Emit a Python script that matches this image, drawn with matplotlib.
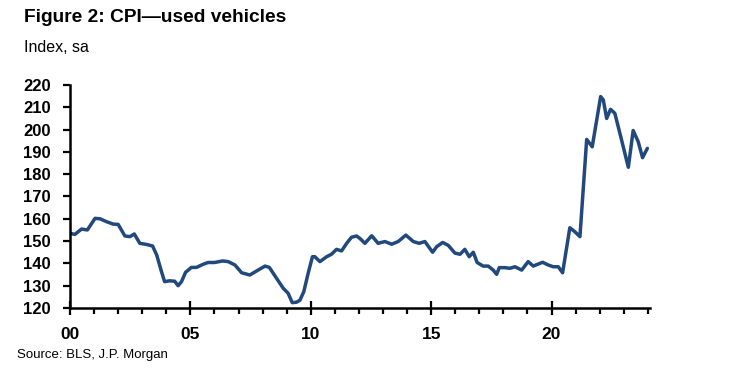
import matplotlib
matplotlib.use("Agg")
import matplotlib.pyplot as plt
from matplotlib.ticker import MultipleLocator, FixedLocator

plt.rcParams['font.family'] = ['Liberation Sans Narrow', 'Liberation Sans', 'DejaVu Sans']

# years since 2000 (decimal) and CPI used vehicles index, sa
years = [0.0, 0.2, 0.48, 0.72, 1.04, 1.25, 1.52, 1.8, 2.0, 2.28, 2.49, 2.67, 2.9, 3.18, 3.43,
         3.6, 3.8, 3.93, 4.14, 4.35, 4.49, 4.63, 4.8, 5.04, 5.25, 5.53, 5.73, 6.0, 6.34, 6.57,
         6.85, 7.13, 7.47, 7.75, 8.1, 8.28, 8.58, 8.86, 9.06, 9.23, 9.41, 9.55, 9.71, 9.89,
         10.07, 10.17, 10.38, 10.66, 10.86, 11.07, 11.28, 11.49, 11.69, 11.9, 12.04, 12.25,
         12.53, 12.8, 13.08, 13.36, 13.63, 13.95, 14.26, 14.5, 14.74, 15.06, 15.23, 15.48,
         15.71, 15.99, 16.2, 16.4, 16.58, 16.75, 16.91, 17.16, 17.37, 17.58, 17.72, 17.83,
         18.06, 18.27, 18.48, 18.76, 19.03, 19.24, 19.63, 19.86, 20.07, 20.28, 20.46, 20.76,
         20.97, 21.18, 21.46, 21.69, 22.04, 22.15, 22.29, 22.45, 22.63, 22.91, 23.19, 23.39,
         23.6, 23.78, 23.98]
values = [153.5, 153.0, 155.4, 155.0, 160.2, 160.0, 158.7, 157.6, 157.5, 152.3, 152.0, 153.2,
          149.0, 148.5, 147.8, 143.8, 136.3, 131.8, 132.2, 132.0, 130.0, 131.8, 136.0, 138.2,
          138.2, 139.6, 140.4, 140.4, 141.1, 140.8, 139.3, 135.8, 134.8, 136.6, 138.8, 138.2,
          133.3, 128.8, 126.6, 122.4, 122.6, 123.5, 127.3, 135.5, 143.0, 143.0, 140.8, 143.0,
          144.1, 146.3, 145.6, 149.0, 151.7, 152.3, 151.2, 149.0, 152.4, 149.0, 149.8, 148.6,
          149.8, 152.7, 149.8, 149.0, 149.8, 145.0, 147.5, 149.4, 148.1, 144.6, 144.1, 146.3,
          143.0, 145.0, 140.4, 138.8, 138.8, 137.0, 135.1, 138.1, 138.1, 137.8, 138.5, 137.0,
          140.8, 138.8, 140.5, 139.3, 138.5, 138.5, 135.8, 156.0, 154.2, 152.0, 195.6, 192.3,
          214.8, 213.3, 205.0, 209.1, 207.3, 195.3, 183.1, 199.6, 194.6, 187.4, 191.6]

x_major = [0, 5, 10, 15, 20]
x_labels = ['00', '05', '10', '15', '20']
y_ticks = [120, 130, 140, 150, 160, 170, 180, 190, 200, 210, 220]

fig = plt.figure(figsize=(7.4, 3.85), dpi=100)
ax = fig.add_axes([70/740, 1-308/385, 580/740, (308-85)/385])
ax.plot(years, values, color='#22497C', lw=2.5, solid_joinstyle='round',
        solid_capstyle='round')

ax.set_xlim(0, 24.09)
ax.set_ylim(120, 220)
ax.xaxis.set_major_locator(FixedLocator(x_major))
ax.set_xticklabels(x_labels)
ax.xaxis.set_minor_locator(MultipleLocator(1))
ax.set_yticks(y_ticks)

for s in ['top', 'right']:
    ax.spines[s].set_visible(False)
for s in ['left', 'bottom']:
    ax.spines[s].set_linewidth(1.8)
    ax.spines[s].set_color('black')

ax.tick_params(axis='x', which='major', direction='inout', length=10, width=1.6,
               labelsize=12.5, pad=9)
ax.tick_params(axis='x', which='minor', direction='out', length=4, width=1.6)
ax.tick_params(axis='y', which='major', direction='out', length=5, width=1.6,
               labelsize=12, pad=9)
for lab in ax.get_xticklabels() + ax.get_yticklabels():
    lab.set_fontweight('bold')

fig.text(24/740, 1-18/385, 'Figure 2: CPI\u2014used vehicles', fontsize=13.8, fontweight='bold',
         va='center', ha='left')
fig.text(24/740, 1-48/385, 'Index, sa', fontsize=11.5, va='center', ha='left')
fig.text(17/740, 1-355/385, 'Source: BLS, J.P. Morgan', fontsize=9.5, va='center', ha='left')

fig.savefig('out.png', dpi=100)
